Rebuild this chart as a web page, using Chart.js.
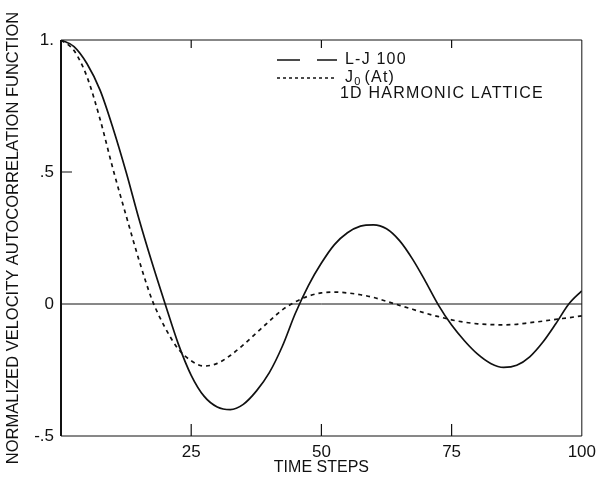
<!DOCTYPE html>
<html>
<head>
<meta charset="utf-8">
<script src="https://cdn.jsdelivr.net/npm/chart.js@4.4.1/dist/chart.umd.min.js"></script>
<style>
  html, body { margin: 0; padding: 0; background: #fff; }
  #wrap { width: 602px; height: 484px; }
</style>
</head>
<body>
<div id="wrap"><canvas id="vacf" width="602" height="484"></canvas></div>
<script>
var steps = [0, 2.5, 5, 7.5, 10, 12.5, 15, 17.5, 20, 22.5, 25, 27.5, 30, 32.5, 35, 37.5, 40,
  42.5, 45, 47.5, 50, 52.5, 55, 57.5, 60, 62.5, 65, 67.5, 70, 72.5, 75, 77.5, 80,
  82.5, 85, 87.5, 90, 92.5, 95, 97.5, 100];

// L-J 100 (solid)
var lj100 = [1.0, 0.975, 0.91, 0.81, 0.665, 0.50, 0.32, 0.155, 0.0, -0.15, -0.27, -0.35, -0.39,
  -0.40, -0.38, -0.33, -0.26, -0.16, -0.035, 0.07, 0.155, 0.225, 0.27, 0.295, 0.30, 0.285,
  0.24, 0.17, 0.085, -0.005, -0.08, -0.14, -0.19, -0.225, -0.24, -0.232, -0.2, -0.145,
  -0.075, 0.0, 0.05];

// J0(At), 1D harmonic lattice (dotted)
var j0 = [1.0, 0.96, 0.86, 0.70, 0.51, 0.335, 0.165, 0.015, -0.09, -0.17, -0.215, -0.235, -0.225,
  -0.195, -0.155, -0.11, -0.065, -0.022, 0.008, 0.03, 0.042, 0.045, 0.042, 0.035, 0.025,
  0.01, -0.005, -0.02, -0.035, -0.048, -0.06, -0.069, -0.075, -0.078, -0.079, -0.077,
  -0.071, -0.065, -0.058, -0.052, -0.045];

var xTicks = [25, 50, 75, 100];
var yTickLabels = { '1': '1.', '0.5': '.5', '0': '0', '-0.5': '-.5' };

var FONT = '"Liberation Sans", Arial, sans-serif';

function toPoints(xs, ys) {
  return xs.map(function (x, i) { return { x: x, y: ys[i] }; });
}

// frame, zero line, inward ticks and the hand-placed legend
var framePlugin = {
  id: 'frame',
  afterDatasetsDraw: function (chart) {
    var ctx = chart.ctx;
    var a = chart.chartArea;
    var xs = chart.scales.x, ys = chart.scales.y;
    ctx.save();
    ctx.strokeStyle = '#111';

    ctx.lineWidth = 1;
    ctx.beginPath();
    ctx.moveTo(a.left, a.top); ctx.lineTo(a.right, a.top);
    ctx.moveTo(a.right, a.top); ctx.lineTo(a.right, a.bottom);
    ctx.moveTo(a.left, a.bottom); ctx.lineTo(a.right, a.bottom);
    var y0 = ys.getPixelForValue(0);
    ctx.moveTo(a.left, y0); ctx.lineTo(a.right, y0);
    ctx.stroke();

    ctx.lineWidth = 2;
    ctx.beginPath();
    ctx.moveTo(a.left, a.top); ctx.lineTo(a.left, a.bottom);
    ctx.stroke();

    ctx.lineWidth = 1.2;
    ctx.beginPath();
    [25, 50, 75].forEach(function (v) {
      var px = xs.getPixelForValue(v);
      ctx.moveTo(px, a.bottom); ctx.lineTo(px, a.bottom - 12);
      ctx.moveTo(px, a.top); ctx.lineTo(px, a.top + 8);
    });
    var y5 = ys.getPixelForValue(0.5);
    ctx.moveTo(a.left, y5); ctx.lineTo(a.left + 11, y5);
    ctx.stroke();

    // legend
    var lx = 277, r1 = 60, r2 = 78, r3 = 94;
    ctx.lineWidth = 1.6;
    ctx.beginPath();
    ctx.moveTo(lx, r1); ctx.lineTo(lx + 23, r1);
    ctx.moveTo(lx + 40, r1); ctx.lineTo(lx + 60, r1);
    ctx.stroke();
    ctx.setLineDash([3, 3]);
    ctx.beginPath();
    ctx.moveTo(lx, r2); ctx.lineTo(lx + 60, r2);
    ctx.stroke();
    ctx.setLineDash([]);

    ctx.fillStyle = '#111';
    ctx.letterSpacing = '1.2px';
    ctx.font = '16px ' + FONT;
    ctx.textBaseline = 'middle';
    ctx.textAlign = 'left';
    ctx.fillText('L-J 100', lx + 68, r1);
    ctx.fillText('J', lx + 68, r2);
    var jw = ctx.measureText('J').width;
    ctx.font = '11px ' + FONT;
    ctx.fillText('0', lx + 68 + jw, r2 + 4);
    var ow = ctx.measureText('0').width;
    ctx.font = '16px ' + FONT;
    ctx.fillText('(At)', lx + 68 + jw + ow + 3, r2);
    ctx.fillText('1D HARMONIC LATTICE', lx + 63, r3);
    ctx.restore();
  }
};

document.addEventListener('DOMContentLoaded', function () {
  var ctx = document.getElementById('vacf').getContext('2d');
  new Chart(ctx, {
    type: 'line',
    data: {
      datasets: [{
        label: 'L-J 100',
        data: toPoints(steps, lj100),
        borderColor: '#111',
        borderWidth: 1.7,
        pointRadius: 0,
        cubicInterpolationMode: 'monotone',
        fill: false
      }, {
        label: 'J0(At) 1D HARMONIC LATTICE',
        data: toPoints(steps, j0),
        borderColor: '#111',
        borderWidth: 1.7,
        borderDash: [4, 4],
        pointRadius: 0,
        cubicInterpolationMode: 'monotone',
        fill: false
      }]
    },
    options: {
      responsive: false,
      animation: { duration: 0 },
      layout: { padding: { top: 40, right: 18, left: 0, bottom: 0 } },
      plugins: {
        legend: { display: false },
        tooltip: { enabled: false }
      },
      scales: {
        x: {
          type: 'linear',
          min: 0,
          max: 100,
          border: { display: false },
          grid: { display: false, drawTicks: false },
          afterFit: function (s) { s.height = 48; },
          afterBuildTicks: function (s) {
            s.ticks = [0].concat(xTicks).map(function (v) { return { value: v }; });
          },
          ticks: {
            padding: 6,
            color: '#111',
            font: { family: FONT, size: 17 },
            maxRotation: 0,
            callback: function (v) { return v === 0 ? '' : String(v); }
          },
          title: {
            display: true,
            text: 'TIME STEPS',
            color: '#111',
            font: { family: FONT, size: 16 },
            padding: { top: 0, bottom: 7 }
          }
        },
        y: {
          type: 'linear',
          min: -0.5,
          max: 1,
          border: { display: false },
          grid: { display: false, drawTicks: false },
          afterFit: function (s) { s.width = 61; },
          ticks: {
            stepSize: 0.5,
            padding: 7,
            color: '#111',
            font: { family: FONT, size: 17 },
            callback: function (v) { return yTickLabels[String(v)] || ''; }
          },
          title: {
            display: true,
            text: 'NORMALIZED VELOCITY AUTOCORRELATION FUNCTION',
            color: '#111',
            font: { family: FONT, size: 16.5 },
            padding: { top: 4, bottom: 2 }
          }
        }
      }
    },
    plugins: [framePlugin]
  });
});
</script>
</body>
</html>
